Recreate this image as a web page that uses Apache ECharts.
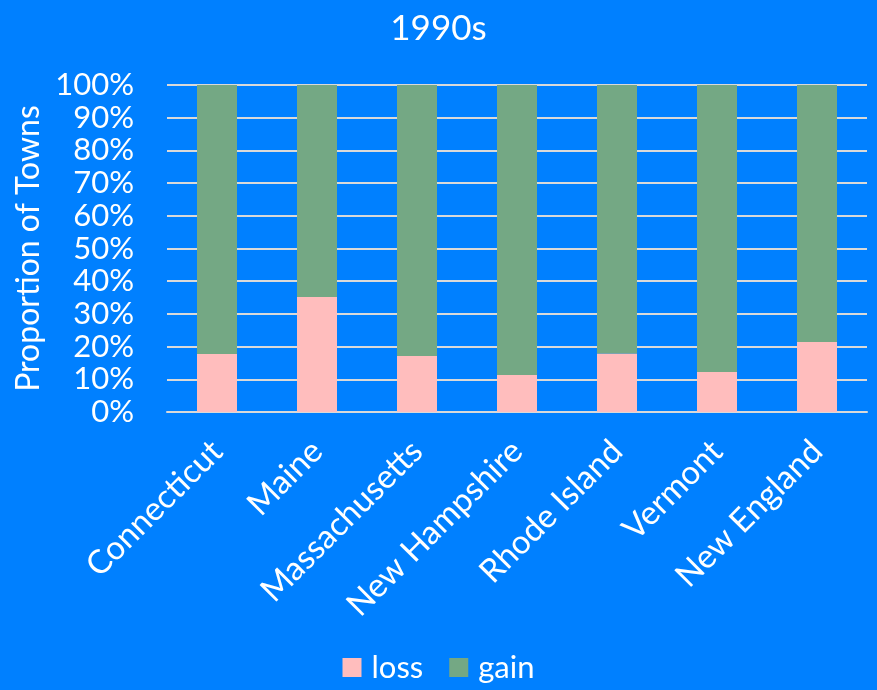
<!DOCTYPE html>
<html>
<head>
<meta charset="utf-8">
<script src="https://cdn.jsdelivr.net/npm/echarts@6/dist/echarts.min.js"></script>
<style>
  html, body { margin: 0; padding: 0; background: #0080ff; }
  #chart { width: 877px; height: 690px; }
</style>
</head>
<body>
<div id="chart"></div>
<script>
// states along the x axis
let states = ['Connecticut', 'Maine', 'Massachusetts', 'New Hampshire', 'Rhode Island', 'Vermont', 'New England']

// share of towns (%)
let loss = [17.7, 35.2, 17.1, 11.3, 17.9, 12.2, 21.4]
let gain = [82.3, 64.8, 82.9, 88.7, 82.1, 87.8, 78.6]

let yTicks = [0, 10, 20, 30, 40, 50, 60, 70, 80, 90, 100]

let font = 'Lato'
let chart = echarts.init(document.getElementById('chart'))

let option = {
    backgroundColor: '#0080ff',
    textStyle: { fontFamily: font, color: '#fff' },
    title: {
        text: '1990s',
        left: 'center',
        top: 6,
        textStyle: { color: '#fff', fontSize: 35, fontWeight: 'normal', fontFamily: font }
    },
    legend: {
        bottom: 2,
        left: 'center',
        itemWidth: 19,
        itemHeight: 19,
        itemGap: 26,
        icon: 'rect',
        textStyle: { color: '#fff', fontSize: 31, fontFamily: font, padding: [0, 0, 0, 5] },
        data: ['loss', 'gain']
    },
    grid: { left: 167, right: 10, top: 85, bottom: 278 },
    xAxis: {
        type: 'category',
        data: states,
        axisLine: { lineStyle: { color: '#d9d9d9', width: 2 } },
        axisTick: { show: false },
        axisLabel: { color: '#fff', fontSize: 33, rotate: 45, margin: 34, fontFamily: font, interval: 0 }
    },
    yAxis: {
        type: 'value',
        min: yTicks[0],
        max: yTicks[yTicks.length - 1],
        interval: 10,
        name: 'Proportion of Towns',
        nameLocation: 'middle',
        nameGap: 121,
        nameTextStyle: { color: '#fff', fontSize: 32, fontFamily: font },
        axisLine: { show: false },
        axisTick: { show: false },
        splitLine: { lineStyle: { color: '#d9d9d9', width: 2 } },
        axisLabel: { color: '#fff', fontSize: 31, margin: 33, fontFamily: font, formatter: '{value}%' }
    },
    series: [
        {
            name: 'loss',
            type: 'bar',
            stack: 'all',
            barWidth: '40%',
            itemStyle: { color: '#ffbdbd' },
            data: loss
        },
        {
            name: 'gain',
            type: 'bar',
            stack: 'all',
            itemStyle: { color: '#74a884' },
            data: gain
        }
    ]
}

chart.setOption(option)
</script>
</body>
</html>
